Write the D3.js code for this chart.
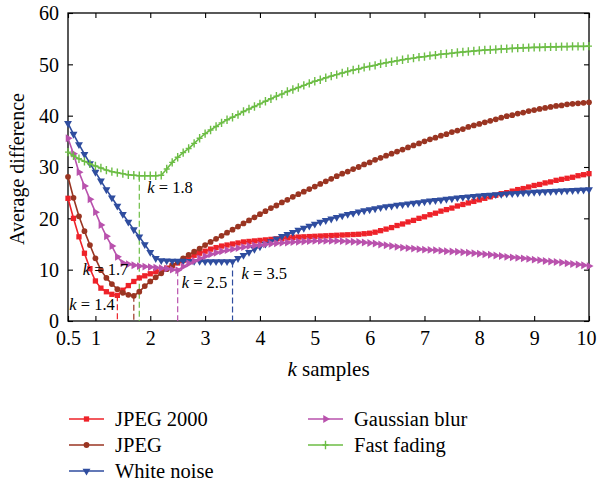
<!DOCTYPE html>
<html>
<head>
<meta charset="utf-8">
<script src="https://cdn.jsdelivr.net/npm/d3@7"></script>
<style>
  html, body { margin: 0; padding: 0; background: #fff; }
  svg { display: block; font-family: "Liberation Serif", "Times New Roman", serif; }
</style>
</head>
<body>
<svg id="chart" width="597" height="485"></svg>
<script>
// Sample positions k = 0.5 ... 10.0 (step 0.1)
const kSamples = d3.range(5, 101).map(i => i / 10);

const jpeg2000 = [
  23.9, 20.0, 16.4, 13.2, 10.2,
  7.8, 6.4, 5.7, 5.2, 5.0, 6.0, 6.9, 7.7, 8.4, 8.8,
  9.2, 9.6, 9.9, 10.3, 10.8, 11.3, 11.8, 12.3, 12.8, 13.2,
  13.6, 14.0, 14.3, 14.6, 14.8, 15.0, 15.2, 15.4, 15.5, 15.6,
  15.7, 15.8, 15.9, 16.0, 16.1, 16.2, 16.3, 16.35, 16.4, 16.45,
  16.5, 16.55, 16.6, 16.65, 16.7, 16.75, 16.8, 16.85, 16.9, 17.0,
  17.1, 17.3, 17.6, 17.9, 18.2, 18.6, 18.9, 19.3, 19.6, 20.0,
  20.3, 20.7, 21.0, 21.4, 21.7, 22.0, 22.4, 22.7, 23.0, 23.3,
  23.6, 23.9, 24.2, 24.5, 24.8, 25.0, 25.3, 25.6, 25.8, 26.1,
  26.4, 26.6, 26.9, 27.1, 27.4, 27.6, 27.8, 28.0, 28.3, 28.5,
  28.7
];

const jpeg = [
  28.1, 24.0, 20.4, 17.5, 14.8,
  12.2, 9.9, 8.4, 7.2, 6.2, 5.5, 5.1, 4.9, 5.7, 6.8,
  7.7, 8.5, 9.3, 10.1, 10.8, 11.5, 12.2, 12.9, 13.5, 14.1,
  14.8, 15.4, 16.0, 16.6, 17.2, 17.8, 18.4, 19.0, 19.6, 20.2,
  20.8, 21.4, 22.0, 22.5, 23.1, 23.6, 24.2, 24.7, 25.2, 25.7,
  26.2, 26.7, 27.2, 27.7, 28.2, 28.7, 29.1, 29.6, 30.0, 30.5,
  30.9, 31.4, 31.8, 32.2, 32.6, 33.0, 33.4, 33.8, 34.2, 34.6,
  35.0, 35.4, 35.7, 36.1, 36.4, 36.8, 37.1, 37.4, 37.8, 38.1,
  38.4, 38.7, 39.0, 39.3, 39.6, 39.9, 40.1, 40.4, 40.6, 40.9,
  41.1, 41.3, 41.5, 41.7, 41.9, 42.0, 42.2, 42.3, 42.4, 42.5,
  42.6
];

const whiteNoise = [
  38.5, 36.4, 34.4, 32.5, 30.7,
  29.0, 27.3, 25.6, 24.0, 22.4, 20.8, 19.3, 17.8, 16.4, 14.9,
  13.4, 12.2, 11.8, 11.75, 11.7, 11.7, 11.7, 11.65, 11.65, 11.65,
  11.6, 11.6, 11.6, 11.6, 11.6, 11.6, 12.2, 12.8, 13.4, 14.0,
  14.5, 15.0, 15.5, 16.0, 16.5, 16.9, 17.3, 17.7, 18.1, 18.5,
  18.9, 19.3, 19.6, 19.9, 20.2, 20.5, 20.8, 21.0, 21.3, 21.5,
  21.7, 21.9, 22.1, 22.3, 22.4, 22.6, 22.7, 22.85, 23.0, 23.1,
  23.25, 23.4, 23.5, 23.6, 23.75, 23.85, 24.0, 24.1, 24.2, 24.3,
  24.4, 24.5, 24.55, 24.65, 24.7, 24.8, 24.85, 24.9, 25.0, 25.05,
  25.1, 25.15, 25.2, 25.25, 25.3, 25.35, 25.4, 25.45, 25.5, 25.55,
  25.6
];

const gaussianBlur = [
  35.6, 32.6, 29.0, 26.3, 23.7,
  21.2, 18.7, 16.5, 14.6, 12.5, 11.3, 11.05, 10.85, 10.7, 10.6,
  10.5, 10.4, 10.3, 10.2, 10.0, 9.9, 10.6, 11.2, 11.7, 12.2,
  12.6, 13.0, 13.3, 13.6, 13.8, 14.0, 14.2, 14.4, 14.6, 14.7,
  14.8, 14.95, 15.05, 15.15, 15.25, 15.3, 15.4, 15.45, 15.5, 15.55,
  15.6, 15.6, 15.6, 15.6, 15.6, 15.55, 15.5, 15.45, 15.4, 15.3,
  15.2, 15.1, 14.9, 14.75, 14.6, 14.45, 14.3, 14.2, 14.1, 14.0,
  13.9, 13.85, 13.8, 13.7, 13.6, 13.55, 13.5, 13.4, 13.3, 13.2,
  13.1, 13.0, 12.9, 12.75, 12.65, 12.5, 12.4, 12.3, 12.2, 12.1,
  11.95, 11.85, 11.7, 11.6, 11.5, 11.4, 11.25, 11.1, 11.0, 10.85,
  10.7
];

const fastFading = [
  32.9, 32.2, 31.6, 31.1, 30.6,
  30.2, 29.8, 29.4, 29.1, 28.9, 28.7, 28.5, 28.4, 28.3, 28.3,
  28.3, 28.3, 28.4, 29.6, 30.9, 31.9, 32.8, 33.6, 34.6, 35.6,
  36.5, 37.2, 37.9, 38.6, 39.2, 39.7, 40.2, 40.8, 41.3, 41.8,
  42.3, 42.8, 43.3, 43.8, 44.2, 44.7, 45.1, 45.5, 45.9, 46.3,
  46.7, 47.0, 47.4, 47.7, 48.0, 48.3, 48.6, 48.9, 49.1, 49.4,
  49.6, 49.8, 50.1, 50.3, 50.5, 50.7, 50.9, 51.1, 51.2, 51.4,
  51.5, 51.7, 51.8, 51.95, 52.05, 52.15, 52.3, 52.4, 52.5, 52.6,
  52.7, 52.8, 52.85, 52.9, 53.0, 53.05, 53.1, 53.15, 53.2, 53.25,
  53.3, 53.3, 53.35, 53.4, 53.4, 53.45, 53.45, 53.5, 53.5, 53.5,
  53.55
];

const seriesNames = ["JPEG 2000", "JPEG", "White noise", "Gaussian blur", "Fast fading"];
const seriesValues = [jpeg2000, jpeg, whiteNoise, gaussianBlur, fastFading];
const seriesColors = ["#ee2229", "#9a3522", "#2f4d9f", "#b952ad", "#6cbd45"];
const seriesMarkers = ["square", "circle", "triDown", "triRight", "plus"];

// Optimal k per distortion type (marked with dashed drop lines)
const bestK = [1.4, 1.7, 3.5, 2.5, 1.8];

const xTicks = [0.5, 1, 2, 3, 4, 5, 6, 7, 8, 9, 10];
const yTicks = [0, 10, 20, 30, 40, 50, 60];

const svg = d3.select("#chart");
const plotLeft = 68, plotRight = 589, plotTop = 13, plotBottom = 321;

const x = d3.scaleLinear().domain([0.5, 10]).range([plotLeft, plotRight]);
const y = d3.scaleLinear().domain([0, 60]).range([plotBottom, plotTop]);

function markerPath(type) {
  switch (type) {
    case "square": return d3.symbol(d3.symbolSquare, 28)();
    case "circle": return d3.symbol(d3.symbolCircle, 26)();
    case "triDown": return d3.symbol(d3.symbolTriangle, 27)();
    case "triRight": return d3.symbol(d3.symbolTriangle, 27)();
    case "plus": return "M0,-4.2V4.2M-3,0H3";
  }
}
function markerRotate(type) {
  if (type === "triDown") return 180;
  if (type === "triRight") return 90;
  return 0;
}
function drawMarker(g, type, color, cx, cy) {
  const p = g.append("path")
    .attr("d", markerPath(type))
    .attr("transform", `translate(${cx},${cy}) rotate(${markerRotate(type)})`);
  if (type === "plus") {
    p.attr("fill", "none").attr("stroke", color).attr("stroke-width", 1.4);
  } else {
    p.attr("fill", color).attr("stroke", "none");
  }
}

// Axes (ticks point inward on all four sides)
const gx = svg.append("g").attr("transform", `translate(0,${plotBottom})`)
  .call(d3.axisBottom(x).tickValues(xTicks).tickSizeInner(-5).tickSizeOuter(0).tickPadding(10)
    .tickFormat(d => d === 0.5 ? "0.5" : d3.format("d")(d)));
const gxTop = svg.append("g").attr("transform", `translate(0,${plotTop})`)
  .call(d3.axisTop(x).tickValues(xTicks).tickSizeInner(-5).tickSizeOuter(0).tickFormat(""));
const gy = svg.append("g").attr("transform", `translate(${plotLeft},0)`)
  .call(d3.axisLeft(y).tickValues(yTicks).tickSizeInner(-5).tickSizeOuter(0).tickPadding(9));
const gyRight = svg.append("g").attr("transform", `translate(${plotRight},0)`)
  .call(d3.axisRight(y).tickValues(yTicks).tickSizeInner(-5).tickSizeOuter(0).tickFormat(""));

[gx, gxTop, gy, gyRight].forEach(g => {
  g.select(".domain").remove();
  g.selectAll(".tick line").attr("stroke", "#000").attr("stroke-width", 1.1);
  g.selectAll("text").attr("font-family", "Liberation Serif, serif").attr("font-size", 20).attr("fill", "#000");
});
gy.selectAll(".tick text").attr("dy", "0.34em");
// keep the last x label inside the frame edge
gx.selectAll(".tick text").filter(d => d === 10).attr("text-anchor", "end").attr("dx", 7);

svg.append("rect")
  .attr("x", plotLeft).attr("y", plotTop)
  .attr("width", plotRight - plotLeft).attr("height", plotBottom - plotTop)
  .attr("fill", "none").attr("stroke", "#000").attr("stroke-width", 1.3);

// Axis titles
const xTitle = svg.append("text")
  .attr("x", (plotLeft + plotRight) / 2).attr("y", 376)
  .attr("text-anchor", "middle").attr("font-size", 21);
xTitle.append("tspan").attr("font-style", "italic").text("k");
xTitle.append("tspan").text(" samples");

svg.append("text")
  .attr("transform", `translate(24,${(plotTop + plotBottom) / 2 + 2}) rotate(-90)`)
  .attr("text-anchor", "middle").attr("font-size", 20)
  .text("Average difference");

// Dashed drop lines at the best k of each series
const plot = svg.append("g");
seriesValues.forEach((vals, i) => {
  const idx = Math.round((bestK[i] - 0.5) * 10);
  plot.append("line")
    .attr("x1", x(bestK[i])).attr("x2", x(bestK[i]))
    .attr("y1", y(vals[idx])).attr("y2", y(0))
    .attr("stroke", seriesColors[i]).attr("stroke-width", 1.2)
    .attr("stroke-dasharray", "6,3");
});

// Series lines and markers
const line = d3.line().x((d, i) => x(kSamples[i])).y(d => y(d));
seriesValues.forEach((vals, i) => {
  const g = plot.append("g");
  g.append("path").attr("d", line(vals))
    .attr("fill", "none").attr("stroke", seriesColors[i]).attr("stroke-width", 1.6);
  vals.forEach((v, j) => drawMarker(g, seriesMarkers[i], seriesColors[i], x(kSamples[j]), y(v)));
});

// k annotations
const notes = [
  { k: 1.8, text: "1.8", dx: 8, yv: 24.9 },
  { k: 1.7, text: "1.7", dx: -51, yv: 9.0 },
  { k: 1.4, text: "1.4", dx: -48, yv: 2.2 },
  { k: 2.5, text: "2.5", dx: 4, yv: 6.4 },
  { k: 3.5, text: "3.5", dx: 9, yv: 8.2 }
];
notes.forEach(n => {
  const t = svg.append("text")
    .attr("x", x(n.k) + n.dx).attr("y", y(n.yv))
    .attr("font-size", 16.5);
  t.append("tspan").attr("font-style", "italic").text("k");
  t.append("tspan").text(" = " + n.text);
});

// Legend
const legendCols = [69, 308];
const legendRows = [419, 445, 471];
seriesNames.forEach((name, i) => {
  const col = i < 3 ? 0 : 1;
  const row = i < 3 ? i : i - 3;
  const lx = legendCols[col], ly = legendRows[row];
  const g = svg.append("g");
  g.append("line").attr("x1", lx).attr("x2", lx + 35).attr("y1", ly).attr("y2", ly)
    .attr("stroke", seriesColors[i]).attr("stroke-width", 1.5);
  drawMarker(g, seriesMarkers[i], seriesColors[i], lx + 17.5, ly);
  g.append("text").attr("x", lx + 46).attr("y", ly + 7)
    .attr("font-size", 20.5).text(name);
});
</script>
</body>
</html>
